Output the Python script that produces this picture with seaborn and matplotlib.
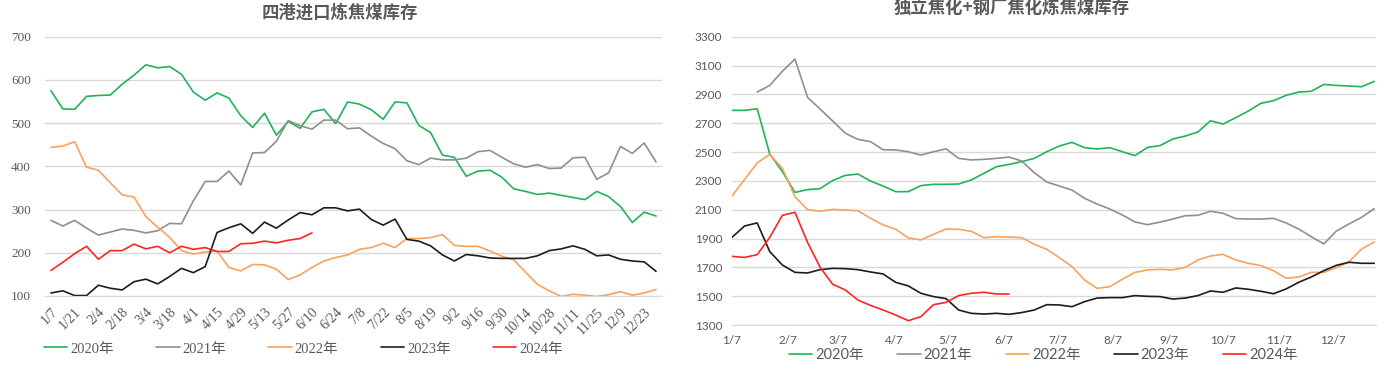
import numpy as np
import pandas as pd
import matplotlib
matplotlib.use("Agg")
import matplotlib.pyplot as plt
import seaborn as sns

# ---------------- data ----------------
weeks = ['1/7','1/14','1/21','1/28','2/4','2/11','2/18','2/25','3/4','3/11','3/18','3/25',
         '4/1','4/8','4/15','4/22','4/29','5/6','5/13','5/20','5/27','6/3','6/10','6/17',
         '6/24','7/1','7/8','7/15','7/22','7/29','8/5','8/12','8/19','8/26','9/2','9/9',
         '9/16','9/23','9/30','10/7','10/14','10/21','10/28','11/4','11/11','11/18','11/25',
         '12/2','12/9','12/16','12/23','12/30']
years = ['2020年', '2021年', '2022年', '2023年', '2024年']

# left: 四港进口炼焦煤库存
port_2020 = [575,533,532,562,564,565,590,611,635,628,631,613,572,553,570,558,517,490,
             523,472,504,488,526,532,499,549,544,531,509,549,547,495,478,426,421,
             377,389,391,375,348,342,335,338,333,328,323,342,330,307,270,294,285]
port_2021 = [275,262,275,257,241,248,255,252,246,251,268,267,320,365,365,389,357,431,
             432,458,506,494,486,507,507,487,489,470,453,441,413,404,419,415,415,
             419,434,437,421,406,398,404,395,396,420,421,370,385,446,430,454,410]
port_2022 = [444,447,457,398,391,362,334,329,284,259,236,205,197,202,204,166,158,173,
             172,162,138,149,166,181,189,195,208,212,222,212,233,233,235,242,217,
             215,215,204,192,184,155,127,112,99,104,102,99,103,110,102,107,115]
port_2023 = [107,112,101,101,125,118,114,133,139,128,145,164,154,168,247,258,267,245,
             271,257,276,293,288,304,304,297,301,277,264,278,231,227,216,195,181,
             196,193,188,187,187,187,193,205,209,216,208,193,195,185,181,179,157]
port_2024 = [159,178,198,215,185,205,205,220,209,215,200,215,208,212,203,203,221,222,
             227,223,229,233,246]

# right: 独立焦化+钢厂焦化炼焦煤库存
coke_2020 = [2789,2789,2800,2486,2364,2220,2239,2246,2303,2338,2347,2299,2264,2225,2225,
             2267,2276,2276,2278,2306,2352,2398,2414,2433,2456,2502,2542,2567,2530,2521,
             2530,2502,2475,2532,2545,2590,2611,2639,2717,2694,2738,2784,2838,2856,2893,
             2916,2921,2969,2962,2958,2953,2990]
coke_2021 = [2916,2962,3060,3145,2879,2798,2715,2630,2588,2572,2516,2514,2502,2479,2502,
             2522,2456,2445,2449,2456,2465,2438,2357,2292,2264,2236,2179,2139,2105,2063,
             2015,1996,2014,2035,2058,2061,2089,2075,2038,2035,2035,2040,2008,1966,1913,
             1862,1952,2001,2047,2107]          # starts at the 3rd week
coke_2022 = [2195,2310,2424,2484,2387,2190,2100,2089,2102,2098,2093,2040,1994,1964,1904,
             1890,1929,1966,1964,1950,1906,1913,1910,1906,1860,1825,1767,1705,1612,1554,
             1566,1617,1665,1682,1686,1682,1700,1751,1779,1790,1751,1728,1712,1677,1624,
             1633,1665,1665,1698,1739,1827,1876]
coke_2023 = [1908,1987,2008,1809,1716,1665,1661,1684,1693,1691,1684,1668,1654,1596,1571,
             1520,1497,1483,1404,1381,1376,1381,1374,1386,1404,1441,1439,1427,1462,1487,
             1490,1490,1504,1499,1497,1480,1487,1504,1536,1527,1557,1548,1534,1517,1550,
             1596,1633,1677,1714,1735,1728,1728]
coke_2024 = [1776,1769,1788,1908,2061,2082,1873,1700,1582,1543,1473,1436,1404,1369,1330,
             1358,1441,1457,1504,1520,1527,1515,1515]

month_ticks = ['1/7','2/7','3/7','4/7','5/7','6/7','7/7','8/7','9/7','10/7','11/7','12/7']

colors = ['#1fb45a', '#8f8f8f', '#f7a35c', '#1c1c1c', '#ff2424']

# ---------------- style ----------------
sns.set_style('white')
serif = ['Liberation Serif', 'Noto Sans CJK SC']
sans = ['Lato', 'Noto Sans CJK SC']
plt.rcParams['font.family'] = ['Noto Sans CJK SC', 'DejaVu Sans']
text_c = '#595959'
grid_c = '#d9d9d9'

W, H = 1392, 384
fig = plt.figure(figsize=(W / 100, H / 100), dpi=100)
ax1 = fig.add_axes([45 / W, 1 - 296 / H, (662 - 45) / W, (296 - 36.7) / H])
ax2 = fig.add_axes([732 / W, 1 - 325 / H, (1376 - 732) / W, (325 - 36.7) / H])

# ---------------- left chart ----------------
idx = np.arange(len(weeks))
left_series = [port_2020, port_2021, port_2022, port_2023, port_2024]
for vals, lab, c in zip(left_series, years, colors):
    sns.lineplot(x=idx[:len(vals)], y=vals, color=c, label=lab, ax=ax1, linewidth=1.2)

ax1.set_xlim(-0.5, len(weeks) - 0.5)
ax1.set_ylim(100, 700)
ax1.set_yticks(range(100, 701, 100))
ax1.set_xticks(idx[::2])
ax1.set_xticklabels(weeks[::2], rotation=45, ha='right', rotation_mode='anchor',
                    family=serif, fontsize=10, color=text_c)
ax1.set_xticks(np.arange(-0.5, len(weeks), 1), minor=True)
ax1.tick_params(axis='x', which='major', length=0, pad=7)
ax1.tick_params(axis='x', which='minor', length=3, color=grid_c, width=1)
ax1.tick_params(axis='y', length=0, pad=10)
for t in ax1.get_yticklabels():
    t.set_family(serif); t.set_fontsize(9.5); t.set_color(text_c)
ax1.grid(axis='y', color=grid_c, linewidth=1)
ax1.set_axisbelow(True)
for s in ['left', 'right', 'top']:
    ax1.spines[s].set_visible(False)
ax1.spines['bottom'].set_color(grid_c)
ax1.set_xlabel(''); ax1.set_ylabel('')
ax1.legend(loc='center left', bbox_to_anchor=(44 / W, 1 - 349 / H), bbox_transform=fig.transFigure,
           ncol=5, frameon=False, borderpad=0, borderaxespad=0, handlelength=1.6,
           handletextpad=0.2, columnspacing=2.9, prop={'family': serif, 'size': 10.5},
           labelcolor=text_c)

# ---------------- right chart ----------------
dates = pd.to_datetime(['2023/' + w for w in weeks])
right_series = [(dates, coke_2020), (dates[2:], coke_2021), (dates, coke_2022),
                (dates, coke_2023), (dates[:len(coke_2024)], coke_2024)]
for (xs, vals), lab, c in zip(right_series, years, colors):
    sns.lineplot(x=xs, y=vals, color=c, label=lab, ax=ax2, linewidth=1.2)

ax2.set_xlim(dates[0], dates[-1] + pd.Timedelta(days=1))
ax2.set_ylim(1300, 3300)
ax2.set_yticks(range(1300, 3301, 200))
mt = pd.to_datetime(['2023/' + m for m in month_ticks])
ax2.set_xticks(mt)
ax2.set_xticklabels(month_ticks, family=sans, fontsize=8.5, color=text_c)
ax2.tick_params(axis='x', length=4, color=grid_c, width=1, pad=3)
ax2.tick_params(axis='y', length=0, pad=7)
for t in ax2.get_yticklabels():
    t.set_family(sans); t.set_fontsize(8.5); t.set_color(text_c)
ax2.grid(axis='y', color=grid_c, linewidth=1)
ax2.set_axisbelow(True)
for s in ['left', 'right', 'top']:
    ax2.spines[s].set_visible(False)
ax2.spines['bottom'].set_color(grid_c)
ax2.set_xlabel(''); ax2.set_ylabel('')
ax2.legend(loc='center left', bbox_to_anchor=(789 / W, 1 - 355 / H), bbox_transform=fig.transFigure,
           ncol=5, frameon=False, borderpad=0, borderaxespad=0, handlelength=1.6,
           handletextpad=0.2, columnspacing=2.3, prop={'family': sans, 'size': 10.5},
           labelcolor=text_c)

# ---------------- titles ----------------
fig.text(340 / W, 1 - 13 / H, '四港进口炼焦煤库存', ha='center', va='center',
         fontsize=12.5, fontweight='bold', color=text_c, family=['Noto Sans CJK SC'])
fig.text(1012 / W, 1 - 8 / H, '独立焦化+钢厂焦化炼焦煤库存', ha='center', va='center',
         fontsize=12.5, fontweight='bold', color=text_c, family=['Noto Sans CJK SC'])

fig.savefig('out.png', dpi=100)
